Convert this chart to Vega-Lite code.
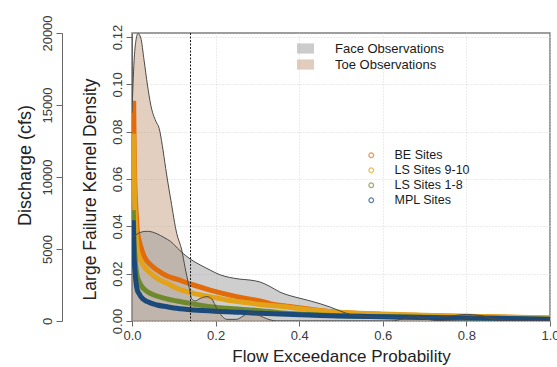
{
  "$schema": "https://vega.github.io/schema/vega-lite/v6.json",
  "width": 418,
  "height": 288,
  "autosize": {"type": "none"},
  "padding": {"left": 132, "top": 33, "right": 7, "bottom": 46},
  "config": {
    "font": "Liberation Sans",
    "view": {"stroke": "#7f7f7f", "strokeWidth": 1.5},
    "axis": {
      "labelFont": "Liberation Sans",
      "labelFontSize": 13,
      "labelColor": "#3a3a3a",
      "titleFont": "Liberation Sans",
      "titleFontWeight": "normal",
      "titleColor": "#222222",
      "domainColor": "#666666",
      "tickColor": "#666666",
      "gridColor": "#d6d6d6",
      "gridDash": [1, 2]
    },
    "legend": {
      "labelFont": "Liberation Sans",
      "labelColor": "#1a1a1a",
      "padding": 0,
      "rowPadding": 2
    }
  },
  "datasets": {
    "density": [
      {"p": 0.0, "density": 0.088, "obs": "Toe Observations"},
      {"p": 0.005, "density": 0.110, "obs": "Toe Observations"},
      {"p": 0.009, "density": 0.118, "obs": "Toe Observations"},
      {"p": 0.0144, "density": 0.1215, "obs": "Toe Observations"},
      {"p": 0.021, "density": 0.1196, "obs": "Toe Observations"},
      {"p": 0.029, "density": 0.110, "obs": "Toe Observations"},
      {"p": 0.037, "density": 0.0997, "obs": "Toe Observations"},
      {"p": 0.045, "density": 0.0912, "obs": "Toe Observations"},
      {"p": 0.057, "density": 0.0844, "obs": "Toe Observations"},
      {"p": 0.065, "density": 0.0814, "obs": "Toe Observations"},
      {"p": 0.0725, "density": 0.0742, "obs": "Toe Observations"},
      {"p": 0.0806, "density": 0.0645, "obs": "Toe Observations"},
      {"p": 0.0845, "density": 0.060, "obs": "Toe Observations"},
      {"p": 0.093, "density": 0.051, "obs": "Toe Observations"},
      {"p": 0.107, "density": 0.037, "obs": "Toe Observations"},
      {"p": 0.119, "density": 0.030, "obs": "Toe Observations"},
      {"p": 0.127, "density": 0.0226, "obs": "Toe Observations"},
      {"p": 0.135, "density": 0.0157, "obs": "Toe Observations"},
      {"p": 0.143, "density": 0.0093, "obs": "Toe Observations"},
      {"p": 0.151, "density": 0.0085, "obs": "Toe Observations"},
      {"p": 0.163, "density": 0.0095, "obs": "Toe Observations"},
      {"p": 0.179, "density": 0.0103, "obs": "Toe Observations"},
      {"p": 0.191, "density": 0.0093, "obs": "Toe Observations"},
      {"p": 0.203, "density": 0.0051, "obs": "Toe Observations"},
      {"p": 0.215, "density": 0.0021, "obs": "Toe Observations"},
      {"p": 0.227, "density": 0.0007, "obs": "Toe Observations"},
      {"p": 0.25, "density": 0.0007, "obs": "Toe Observations"},
      {"p": 0.266, "density": 0.0021, "obs": "Toe Observations"},
      {"p": 0.282, "density": 0.0035, "obs": "Toe Observations"},
      {"p": 0.298, "density": 0.0028, "obs": "Toe Observations"},
      {"p": 0.315, "density": 0.0015, "obs": "Toe Observations"},
      {"p": 0.33, "density": 0.0005, "obs": "Toe Observations"},
      {"p": 0.346, "density": 0.0, "obs": "Toe Observations"},
      {"p": 0.62, "density": 0.0, "obs": "Toe Observations"},
      {"p": 0.65, "density": 0.001, "obs": "Toe Observations"},
      {"p": 0.675, "density": 0.0022, "obs": "Toe Observations"},
      {"p": 0.70, "density": 0.001, "obs": "Toe Observations"},
      {"p": 0.73, "density": 0.0002, "obs": "Toe Observations"},
      {"p": 0.78, "density": 0.0005, "obs": "Toe Observations"},
      {"p": 0.81, "density": 0.0015, "obs": "Toe Observations"},
      {"p": 0.835, "density": 0.0022, "obs": "Toe Observations"},
      {"p": 0.86, "density": 0.0008, "obs": "Toe Observations"},
      {"p": 0.89, "density": 0.0, "obs": "Toe Observations"},
      {"p": 1.0, "density": 0.0, "obs": "Toe Observations"},
      {"p": 0.0, "density": 0.0353, "obs": "Face Observations"},
      {"p": 0.0127, "density": 0.0368, "obs": "Face Observations"},
      {"p": 0.0246, "density": 0.0377, "obs": "Face Observations"},
      {"p": 0.037, "density": 0.0379, "obs": "Face Observations"},
      {"p": 0.0486, "density": 0.0376, "obs": "Face Observations"},
      {"p": 0.0605, "density": 0.0368, "obs": "Face Observations"},
      {"p": 0.0766, "density": 0.0353, "obs": "Face Observations"},
      {"p": 0.0925, "density": 0.0336, "obs": "Face Observations"},
      {"p": 0.115, "density": 0.0297, "obs": "Face Observations"},
      {"p": 0.139, "density": 0.0262, "obs": "Face Observations"},
      {"p": 0.163, "density": 0.0237, "obs": "Face Observations"},
      {"p": 0.187, "density": 0.0215, "obs": "Face Observations"},
      {"p": 0.211, "density": 0.0195, "obs": "Face Observations"},
      {"p": 0.234, "density": 0.0184, "obs": "Face Observations"},
      {"p": 0.258, "density": 0.0177, "obs": "Face Observations"},
      {"p": 0.282, "density": 0.0173, "obs": "Face Observations"},
      {"p": 0.306, "density": 0.0165, "obs": "Face Observations"},
      {"p": 0.33, "density": 0.0146, "obs": "Face Observations"},
      {"p": 0.354, "density": 0.0122, "obs": "Face Observations"},
      {"p": 0.378, "density": 0.0107, "obs": "Face Observations"},
      {"p": 0.402, "density": 0.0096, "obs": "Face Observations"},
      {"p": 0.426, "density": 0.0085, "obs": "Face Observations"},
      {"p": 0.45, "density": 0.0073, "obs": "Face Observations"},
      {"p": 0.474, "density": 0.0059, "obs": "Face Observations"},
      {"p": 0.498, "density": 0.0042, "obs": "Face Observations"},
      {"p": 0.522, "density": 0.0028, "obs": "Face Observations"},
      {"p": 0.545, "density": 0.0021, "obs": "Face Observations"},
      {"p": 0.57, "density": 0.0017, "obs": "Face Observations"},
      {"p": 0.64, "density": 0.0014, "obs": "Face Observations"},
      {"p": 0.70, "density": 0.0014, "obs": "Face Observations"},
      {"p": 0.75, "density": 0.0018, "obs": "Face Observations"},
      {"p": 0.78, "density": 0.0025, "obs": "Face Observations"},
      {"p": 0.80, "density": 0.0028, "obs": "Face Observations"},
      {"p": 0.83, "density": 0.0024, "obs": "Face Observations"},
      {"p": 0.86, "density": 0.0012, "obs": "Face Observations"},
      {"p": 0.89, "density": 0.0004, "obs": "Face Observations"},
      {"p": 0.93, "density": 0.0001, "obs": "Face Observations"},
      {"p": 1.0, "density": 0.0, "obs": "Face Observations"}
    ],
    "flow": [
      {"p": 0.004, "q": 15300, "site": "BE Sites"},
      {"p": 0.005, "q": 12500, "site": "BE Sites"},
      {"p": 0.006, "q": 10500, "site": "BE Sites"},
      {"p": 0.008, "q": 8600, "site": "BE Sites"},
      {"p": 0.0105, "q": 7300, "site": "BE Sites"},
      {"p": 0.0127, "q": 6300, "site": "BE Sites"},
      {"p": 0.017, "q": 5600, "site": "BE Sites"},
      {"p": 0.021, "q": 5160, "site": "BE Sites"},
      {"p": 0.029, "q": 4500, "site": "BE Sites"},
      {"p": 0.045, "q": 3890, "site": "BE Sites"},
      {"p": 0.06, "q": 3540, "site": "BE Sites"},
      {"p": 0.084, "q": 3120, "site": "BE Sites"},
      {"p": 0.107, "q": 2900, "site": "BE Sites"},
      {"p": 0.147, "q": 2500, "site": "BE Sites"},
      {"p": 0.187, "q": 2150, "site": "BE Sites"},
      {"p": 0.227, "q": 1850, "site": "BE Sites"},
      {"p": 0.266, "q": 1600, "site": "BE Sites"},
      {"p": 0.306, "q": 1400, "site": "BE Sites"},
      {"p": 0.33, "q": 1200, "site": "BE Sites"},
      {"p": 0.378, "q": 1000, "site": "BE Sites"},
      {"p": 0.426, "q": 810, "site": "BE Sites"},
      {"p": 0.474, "q": 650, "site": "BE Sites"},
      {"p": 0.522, "q": 560, "site": "BE Sites"},
      {"p": 0.57, "q": 500, "site": "BE Sites"},
      {"p": 0.6, "q": 460, "site": "BE Sites"},
      {"p": 0.7, "q": 380, "site": "BE Sites"},
      {"p": 0.8, "q": 320, "site": "BE Sites"},
      {"p": 0.9, "q": 260, "site": "BE Sites"},
      {"p": 1.0, "q": 200, "site": "BE Sites"},
      {"p": 0.004, "q": 13000, "site": "LS Sites 9-10"},
      {"p": 0.005, "q": 10500, "site": "LS Sites 9-10"},
      {"p": 0.006, "q": 8800, "site": "LS Sites 9-10"},
      {"p": 0.008, "q": 7000, "site": "LS Sites 9-10"},
      {"p": 0.0105, "q": 5700, "site": "LS Sites 9-10"},
      {"p": 0.0127, "q": 4930, "site": "LS Sites 9-10"},
      {"p": 0.021, "q": 4200, "site": "LS Sites 9-10"},
      {"p": 0.029, "q": 3770, "site": "LS Sites 9-10"},
      {"p": 0.045, "q": 3310, "site": "LS Sites 9-10"},
      {"p": 0.06, "q": 2960, "site": "LS Sites 9-10"},
      {"p": 0.084, "q": 2620, "site": "LS Sites 9-10"},
      {"p": 0.107, "q": 2270, "site": "LS Sites 9-10"},
      {"p": 0.147, "q": 1920, "site": "LS Sites 9-10"},
      {"p": 0.187, "q": 1690, "site": "LS Sites 9-10"},
      {"p": 0.227, "q": 1460, "site": "LS Sites 9-10"},
      {"p": 0.266, "q": 1300, "site": "LS Sites 9-10"},
      {"p": 0.306, "q": 1150, "site": "LS Sites 9-10"},
      {"p": 0.354, "q": 1020, "site": "LS Sites 9-10"},
      {"p": 0.402, "q": 860, "site": "LS Sites 9-10"},
      {"p": 0.45, "q": 720, "site": "LS Sites 9-10"},
      {"p": 0.498, "q": 610, "site": "LS Sites 9-10"},
      {"p": 0.545, "q": 540, "site": "LS Sites 9-10"},
      {"p": 0.6, "q": 480, "site": "LS Sites 9-10"},
      {"p": 0.7, "q": 400, "site": "LS Sites 9-10"},
      {"p": 0.8, "q": 330, "site": "LS Sites 9-10"},
      {"p": 0.9, "q": 270, "site": "LS Sites 9-10"},
      {"p": 1.0, "q": 210, "site": "LS Sites 9-10"},
      {"p": 0.003, "q": 7700, "site": "LS Sites 1-8"},
      {"p": 0.004, "q": 6500, "site": "LS Sites 1-8"},
      {"p": 0.005, "q": 5500, "site": "LS Sites 1-8"},
      {"p": 0.007, "q": 4500, "site": "LS Sites 1-8"},
      {"p": 0.0095, "q": 3700, "site": "LS Sites 1-8"},
      {"p": 0.0127, "q": 3080, "site": "LS Sites 1-8"},
      {"p": 0.017, "q": 2750, "site": "LS Sites 1-8"},
      {"p": 0.021, "q": 2500, "site": "LS Sites 1-8"},
      {"p": 0.037, "q": 2030, "site": "LS Sites 1-8"},
      {"p": 0.06, "q": 1730, "site": "LS Sites 1-8"},
      {"p": 0.084, "q": 1530, "site": "LS Sites 1-8"},
      {"p": 0.107, "q": 1390, "site": "LS Sites 1-8"},
      {"p": 0.147, "q": 1180, "site": "LS Sites 1-8"},
      {"p": 0.187, "q": 990, "site": "LS Sites 1-8"},
      {"p": 0.227, "q": 880, "site": "LS Sites 1-8"},
      {"p": 0.306, "q": 720, "site": "LS Sites 1-8"},
      {"p": 0.354, "q": 580, "site": "LS Sites 1-8"},
      {"p": 0.402, "q": 480, "site": "LS Sites 1-8"},
      {"p": 0.45, "q": 410, "site": "LS Sites 1-8"},
      {"p": 0.5, "q": 360, "site": "LS Sites 1-8"},
      {"p": 0.6, "q": 305, "site": "LS Sites 1-8"},
      {"p": 0.7, "q": 260, "site": "LS Sites 1-8"},
      {"p": 0.8, "q": 215, "site": "LS Sites 1-8"},
      {"p": 0.9, "q": 175, "site": "LS Sites 1-8"},
      {"p": 1.0, "q": 125, "site": "LS Sites 1-8"},
      {"p": 0.003, "q": 7000, "site": "MPL Sites"},
      {"p": 0.004, "q": 5600, "site": "MPL Sites"},
      {"p": 0.005, "q": 4500, "site": "MPL Sites"},
      {"p": 0.007, "q": 3500, "site": "MPL Sites"},
      {"p": 0.0095, "q": 2700, "site": "MPL Sites"},
      {"p": 0.0127, "q": 2150, "site": "MPL Sites"},
      {"p": 0.017, "q": 1900, "site": "MPL Sites"},
      {"p": 0.021, "q": 1690, "site": "MPL Sites"},
      {"p": 0.037, "q": 1340, "site": "MPL Sites"},
      {"p": 0.06, "q": 1110, "site": "MPL Sites"},
      {"p": 0.084, "q": 990, "site": "MPL Sites"},
      {"p": 0.107, "q": 880, "site": "MPL Sites"},
      {"p": 0.147, "q": 760, "site": "MPL Sites"},
      {"p": 0.227, "q": 650, "site": "MPL Sites"},
      {"p": 0.306, "q": 530, "site": "MPL Sites"},
      {"p": 0.354, "q": 480, "site": "MPL Sites"},
      {"p": 0.402, "q": 430, "site": "MPL Sites"},
      {"p": 0.45, "q": 390, "site": "MPL Sites"},
      {"p": 0.5, "q": 350, "site": "MPL Sites"},
      {"p": 0.6, "q": 295, "site": "MPL Sites"},
      {"p": 0.7, "q": 250, "site": "MPL Sites"},
      {"p": 0.8, "q": 210, "site": "MPL Sites"},
      {"p": 0.9, "q": 170, "site": "MPL Sites"},
      {"p": 1.0, "q": 120, "site": "MPL Sites"}
    ]
  },
  "layer": [
    {
      "data": {"name": "density"},
      "mark": {"type": "area", "fillOpacity": 0.48, "interpolate": "monotone", "clip": true},
      "encoding": {
        "x": {
          "field": "p",
          "type": "quantitative",
          "scale": {"domain": [0, 1], "nice": false, "zero": false},
          "axis": {
            "title": "Flow Exceedance Probability",
            "values": [0, 0.2, 0.4, 0.6, 0.8, 1],
            "format": ".1f",
            "grid": true,
            "domain": false,
            "labelFlush": false,
            "labelOverlap": false,
            "tickSize": 5,
            "labelPadding": 3,
            "titlePadding": 6,
            "titleFontSize": 17
          }
        },
        "y": {
          "field": "density",
          "type": "quantitative",
          "stack": null,
          "scale": {"domain": [0, 0.1217], "nice": false},
          "axis": {
            "orient": "left",
            "title": "Large Failure  Kernel Density",
            "values": [0, 0.02, 0.04, 0.06, 0.08, 0.1, 0.12],
            "format": ".2f",
            "grid": true,
            "labelAngle": -90,
            "labelAlign": "center",
            "labelBaseline": "bottom",
            "labelPadding": 2,
            "labelFlush": false,
            "labelOverlap": false,
            "tickSize": 6,
            "titleAngle": 270,
            "titleAlign": "center",
            "titleBaseline": "middle",
            "titleX": -42,
            "titleY": 156,
            "titleFontSize": 17.5
          }
        },
        "fill": {
          "field": "obs",
          "type": "nominal",
          "scale": {"domain": ["Face Observations", "Toe Observations"], "range": ["#999999", "#c39a7c"]},
          "legend": {
            "orient": "none",
            "legendX": 165,
            "legendY": 7,
            "title": null,
            "symbolType": "M-1,-0.6H1V0.6H-1Z",
            "symbolSize": 289,
            "symbolStrokeWidth": 0,
            "symbolOpacity": 0.5,
            "rowPadding": -2,
            "labelOffset": 21,
            "labelFontSize": 13
          }
        }
      }
    },
    {
      "data": {"name": "flow"},
      "mark": {"type": "line", "strokeWidth": 5, "interpolate": "monotone", "clip": true},
      "encoding": {
        "x": {"field": "p", "type": "quantitative"},
        "y": {
          "field": "q",
          "type": "quantitative",
          "scale": {"domain": [0, 20000], "nice": false},
          "axis": {
            "orient": "left",
            "offset": 70,
            "title": "Discharge (cfs)",
            "values": [0, 5000, 10000, 15000, 20000],
            "format": "d",
            "grid": false,
            "labelAngle": -90,
            "labelAlign": "center",
            "labelBaseline": "bottom",
            "labelPadding": 2,
            "labelFlush": false,
            "labelOverlap": false,
            "tickSize": 6,
            "titleAngle": 270,
            "titleAlign": "center",
            "titleBaseline": "middle",
            "titleX": -37,
            "titleY": 132,
            "titleFontSize": 18
          }
        },
        "stroke": {
          "field": "site",
          "type": "nominal",
          "scale": {
            "domain": ["BE Sites", "LS Sites 9-10", "LS Sites 1-8", "MPL Sites"],
            "range": ["#e36c0a", "#e2a31a", "#6f8a2e", "#1b4a7a"]
          },
          "legend": {
            "orient": "none",
            "legendX": 233,
            "legendY": 116,
            "title": null,
            "symbolType": "circle",
            "symbolSize": 22,
            "symbolStrokeWidth": 1.2,
            "symbolFillColor": "transparent",
            "symbolOpacity": 0.7,
            "labelOffset": 17,
            "labelFontSize": 12.5
          }
        }
      }
    },
    {
      "data": {"name": "density"},
      "mark": {"type": "line", "stroke": "#4a4a4a", "strokeWidth": 1, "interpolate": "monotone", "clip": true},
      "encoding": {
        "x": {"field": "p", "type": "quantitative"},
        "y": {"field": "density", "type": "quantitative", "scale": {"domain": [0, 0.1217], "nice": false}, "axis": null},
        "detail": {"field": "obs", "type": "nominal"}
      }
    },
    {
      "data": {"values": [{}]},
      "mark": {"type": "rule", "stroke": "#1a1a1a", "strokeWidth": 1, "strokeDash": [2, 1.5]},
      "encoding": {"x": {"datum": 0.14, "type": "quantitative"}}
    }
  ],
  "resolve": {"scale": {"y": "independent"}}
}
